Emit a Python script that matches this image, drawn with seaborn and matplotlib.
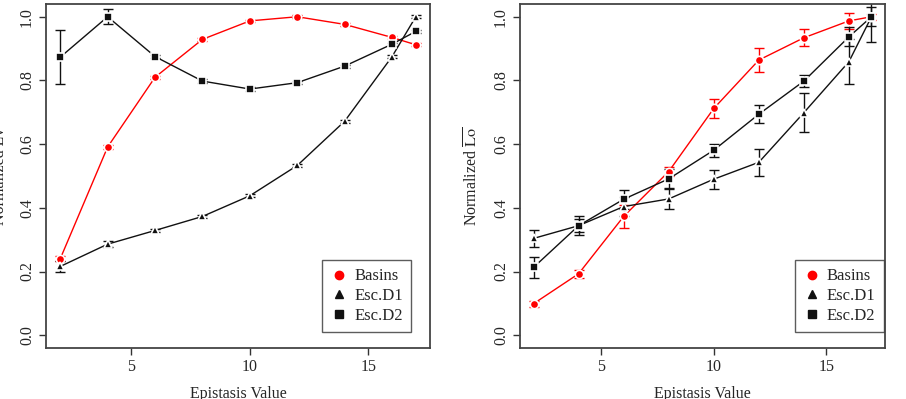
import matplotlib
matplotlib.use("Agg")
import matplotlib.pyplot as plt
import seaborn as sns
import numpy as np
import pandas as pd

# ---- data ----
epistasis = [2, 4, 6, 8, 10, 12, 14, 16, 17]

lv_basins = [0.240, 0.591, 0.810, 0.929, 0.987, 1.000, 0.976, 0.935, 0.912]
lv_basins_err = [0.008, 0.006, 0.005, 0.004, 0.004, 0.004, 0.004, 0.004, 0.004]
lv_d1 = [0.216, 0.286, 0.329, 0.373, 0.438, 0.533, 0.672, 0.875, 1.000]
lv_d1_err = [0.018, 0.010, 0.005, 0.005, 0.005, 0.005, 0.005, 0.005, 0.005]
lv_d2 = [0.873, 1.000, 0.875, 0.798, 0.773, 0.793, 0.845, 0.914, 0.954]
lv_d2_err = [0.085, 0.023, 0.005, 0.005, 0.005, 0.005, 0.005, 0.005, 0.005]

lo_basins = [0.099, 0.193, 0.373, 0.514, 0.712, 0.864, 0.934, 0.987, 1.000]
lo_basins_err = [0.010, 0.012, 0.035, 0.015, 0.031, 0.039, 0.026, 0.025, 0.010]
lo_d1 = [0.304, 0.344, 0.404, 0.428, 0.490, 0.543, 0.699, 0.859, 1.000]
lo_d1_err = [0.026, 0.020, 0.030, 0.032, 0.030, 0.042, 0.061, 0.070, 0.080]
lo_d2 = [0.213, 0.344, 0.427, 0.491, 0.581, 0.694, 0.798, 0.937, 1.000]
lo_d2_err = [0.032, 0.030, 0.030, 0.030, 0.020, 0.028, 0.020, 0.030, 0.030]

series_names = ["Basins", "Esc.D1", "Esc.D2"]
series_colors = ["#ff0000", "#111111", "#111111"]
series_markers = ["o", "^", "s"]
x_ticks = [5, 10, 15]
y_ticks = [0.0, 0.2, 0.4, 0.6, 0.8, 1.0]

sns.set_style("white")
plt.rcParams["font.family"] = ["Liberation Serif", "DejaVu Serif"]
plt.rcParams["mathtext.fontset"] = "stix"

fig = plt.figure(figsize=(9.06, 3.99), dpi=100)
ax1 = fig.add_axes([46/906, 1-348/399, (430-46)/906, (348-4)/399])
ax2 = fig.add_axes([520/906, 1-348/399, (885-520)/906, (348-4)/399])

def draw(ax, ys, errs, ylabel, legend_anchor):
    for name, y, e, c, m in zip(series_names, ys, errs, series_colors, series_markers):
        df = pd.DataFrame({"x": epistasis, "y": y})
        ax.errorbar(epistasis, y, yerr=e, fmt="none", ecolor=c, elinewidth=1.0,
                    capsize=3.5, capthick=1.0, zorder=2)
        sns.lineplot(data=df, x="x", y="y", ax=ax, color=c, linewidth=1.0,
                     marker=m, markersize=5.5 if m != "o" else 6,
                     markeredgecolor="white", markeredgewidth=1.2,
                     label=name, zorder=3)
    ax.set_xlim(1.4, 17.6)
    ax.set_ylim(-0.04, 1.04)
    ax.set_xticks(x_ticks)
    ax.set_xticklabels([str(t) for t in x_ticks])
    ax.set_yticks(y_ticks)
    ax.set_yticklabels([f"{t:.1f}" for t in y_ticks], rotation=90, va="center")
    ax.tick_params(axis="both", direction="out", length=5, width=1, labelsize=11.5,
                   color="#333333", bottom=True, left=True)
    ax.tick_params(axis="x", pad=3)
    ax.tick_params(axis="y", pad=3)
    for s in ax.spines.values():
        s.set_color("#444444")
        s.set_linewidth(1.3)
    ax.set_xlabel("Epistasis Value", fontsize=11.5, labelpad=8)
    ax.set_ylabel(ylabel, fontsize=11.5, labelpad=8)
    handles = [plt.Line2D([], [], linestyle="none", marker=m, color=c, markersize=6)
               for c, m in zip(series_colors, series_markers)]
    leg = ax.legend(handles, series_names, loc="lower right", bbox_to_anchor=legend_anchor,
                    frameon=True, fancybox=False, fontsize=12, handletextpad=0.4,
                    borderpad=0.5, labelspacing=0.22, handlelength=1.0,
                    borderaxespad=0.0)
    leg.get_frame().set_edgecolor("#333333")
    leg.get_frame().set_linewidth(1.0)

draw(ax1, [lv_basins, lv_d1, lv_d2], [lv_basins_err, lv_d1_err, lv_d2_err],
     "Normalized Lv", (0.9505, 0.0465))
draw(ax2, [lo_basins, lo_d1, lo_d2], [lo_basins_err, lo_d1_err, lo_d2_err],
     r"Normalized $\overline{\mathrm{Lo}}$", (0.997, 0.0465))

fig.savefig("out.png", dpi=100)
